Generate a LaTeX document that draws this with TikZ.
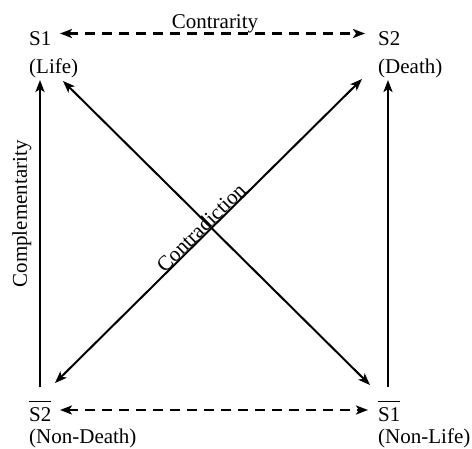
\documentclass[tikz,border=0pt]{standalone}
\usepackage{fontspec}
\setmainfont{Liberation Serif}
\usetikzlibrary{arrows.meta}
\newcommand\ovlbar[1]{\vbox{\hrule height 1.6pt\kern 5pt\hbox{#1}}}
\begin{document}
\begin{tikzpicture}[x=1pt,y=-1pt,
  >={Stealth[length=12pt,width=9pt,inset=3pt]},
  lbl/.style={inner sep=0pt, font=\fontsize{21}{25}\selectfont, anchor=base west},
  rellabel/.style={inner sep=0pt, font=\fontsize{21}{25}\selectfont, anchor=base},
  vertarrow/.style={line width=2.2pt, ->},
  dasharrow/.style={line width=2.2pt, dash pattern=on 10pt off 7pt, <->},
  diagarrow/.style={line width=2pt, <->}
]
\useasboundingbox (0,0) rectangle (472,448);

% corner labels
\node[lbl] (s1) at (29,45) {S1};
\node[lbl] (life) at (29,73) {(Life)};
\node[lbl] (s2) at (378,45) {S2};
\node[lbl] (death) at (378,73) {(Death)};
\node[lbl] (ns2) at (29,421) {\ovlbar{S2}};
\node[lbl] (nondeath) at (29,443) {(Non-Death)};
\node[lbl] (ns1) at (378,421) {\ovlbar{S1}};
\node[lbl] (nonlife) at (378,443) {(Non-Life)};

% connector end points
\coordinate (tl) at (60,33.5);
\coordinate (tr) at (365,33.5);
\coordinate (bl) at (60,410);
\coordinate (br) at (368,410);
\coordinate (lvb) at (40,387);
\coordinate (lvt) at (40,80);
\coordinate (rvb) at (388,387);
\coordinate (rvt) at (388,80);
\coordinate (d1a) at (63,81);
\coordinate (d1b) at (370,385);
\coordinate (d2a) at (362,79);
\coordinate (d2b) at (55,383);

% connectors
\draw[dasharrow] (tl) -- (tr);
\draw[dasharrow] (bl) -- (br);
\draw[vertarrow] (lvb) -- (lvt);
\draw[vertarrow] (rvb) -- (rvt);
\draw[diagarrow] (d1a) -- (d1b);
\draw[diagarrow] (d2b) -- (d2a);

% relation labels
\node[rellabel] (contrarity) at (215,28) {Contrarity};
\node[rellabel, rotate=90] (complementarity) at (27,214) {Complementarity};
\node[rellabel, rotate=44.7] (contradiction) at (206,232.5) {Contradiction};
\end{tikzpicture}
\end{document}
